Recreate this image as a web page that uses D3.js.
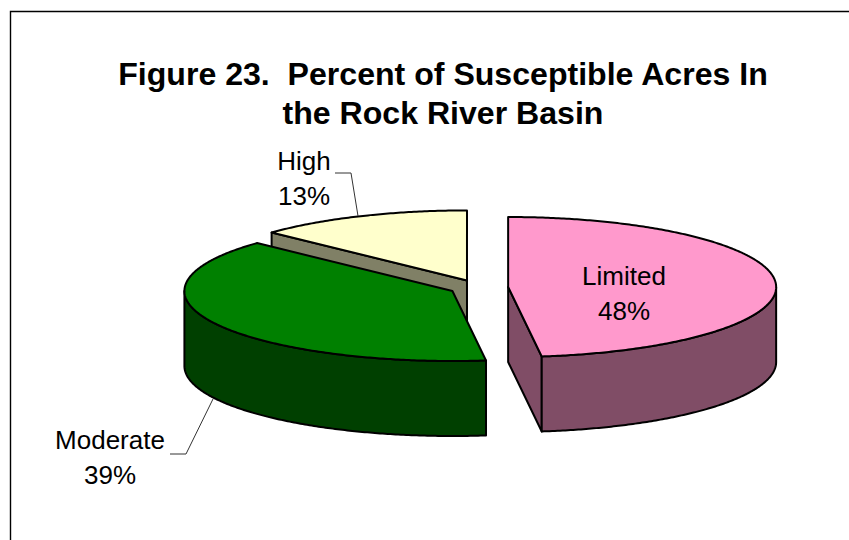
<!DOCTYPE html>
<html>
<head>
<meta charset="utf-8">
<script src="https://d3js.org/d3.v7.min.js"></script>
<style>
  html, body { margin: 0; padding: 0; background: #fff; }
  svg { display: block; }
  text { font-family: "Liberation Sans", Arial, sans-serif; fill: #000; }
</style>
</head>
<body>
<div id="chart"></div>
<script>
const titleLines = ["Figure 23.  Percent of Susceptible Acres In", "the Rock River Basin"];
const categories = ["Limited", "Moderate", "High"];
const percents = [48, 39, 13];
const topColors = ["#ff99cc", "#008000", "#ffffcc"];
const sideColors = ["#804d66", "#004000", "#808066"];

// pie geometry, the tilted circle is just an ellipse
const width = 849, height = 540;
const cx = 478.7, cy = 287.5;
const rx = 268, ry = 70;
const depth = 75;
const explode = 29.5;

const svg = d3.select("#chart").append("svg")
  .attr("width", width)
  .attr("height", height);

// frame of the chart area, it runs off the picture on the right and bottom
svg.append("path")
  .attr("d", "M10.5,540V11.5H849")
  .attr("fill", "none")
  .attr("stroke", "#000")
  .attr("stroke-width", 1.4);

svg.selectAll(".title")
  .data(titleLines)
  .join("text")
  .attr("class", "title")
  .attr("x", 443)
  .attr("y", (d, i) => 85 + i * 39)
  .attr("text-anchor", "middle")
  .attr("font-size", 32.1)
  .attr("font-weight", "bold")
  .style("white-space", "pre")
  .text(d => d);

const pie = d3.pie().sort(null).value(d => d.value);
const slices = pie(categories.map((c, i) => ({
  name: c, value: percents[i], top: topColors[i], side: sideColors[i]
})));

const line = d3.line();

function rim(c, a) {
  return [c.x + rx * Math.sin(a), c.y - ry * Math.cos(a)];
}

function arcPoints(c, a0, a1) {
  const steps = Math.max(2, Math.ceil(Math.abs(a1 - a0) / 0.01));
  return d3.range(steps + 1).map(i => rim(c, a0 + (a1 - a0) * i / steps));
}

function down(p) {
  return [p[0], p[1] + depth];
}

slices.forEach(s => {
  const mid = (s.startAngle + s.endAngle) / 2;
  s.center = {
    x: cx + explode * Math.sin(mid),
    y: cy - explode * (ry / rx) * Math.cos(mid)
  };
});

// back slices first so that the nearer ones paint over them
const order = [2, 1, 0].map(i => slices[i]);
const g = svg.append("g")
  .attr("stroke", "#000")
  .attr("stroke-width", 2)
  .attr("stroke-linejoin", "round");

function cutFace(s, a) {
  const apex = [s.center.x, s.center.y];
  const e = rim(s.center, a);
  g.append("path")
    .attr("d", line([apex, e, down(e), down(apex)]) + "Z")
    .attr("fill", s.data.side);
}

order.forEach(s => {
  const c = s.center;

  // cut faces, only the ones turned towards us
  if (s.endAngle < Math.PI) cutFace(s, s.endAngle);
  if (s.startAngle > Math.PI) cutFace(s, s.startAngle);

  // outer wall
  const a0 = Math.max(s.startAngle, Math.PI / 2);
  const a1 = Math.min(s.endAngle, 3 * Math.PI / 2);
  if (a1 > a0) {
    const upper = arcPoints(c, a0, a1);
    const lower = upper.map(down).reverse();
    g.append("path")
      .attr("d", line(upper.concat(lower)) + "Z")
      .attr("fill", s.data.side);
  }

  // top
  g.append("path")
    .attr("d", line([[c.x, c.y]].concat(arcPoints(c, s.startAngle, s.endAngle))) + "Z")
    .attr("fill", s.data.top);
});

// leader lines
const leaders = [
  [[335, 173], [351, 173], [358, 216]],
  [[170, 454], [186, 454], [213, 399]]
];
svg.selectAll(".leader")
  .data(leaders)
  .join("path")
  .attr("class", "leader")
  .attr("d", d => line(d))
  .attr("fill", "none")
  .attr("stroke", "#333")
  .attr("stroke-width", 1);

const labelPos = [
  {x: 624, y: 285},
  {x: 110, y: 449},
  {x: 304, y: 170}
];
slices.forEach((s, i) => {
  const t = svg.append("text")
    .attr("text-anchor", "middle")
    .attr("font-size", 26);
  t.append("tspan").attr("x", labelPos[i].x).attr("y", labelPos[i].y).text(s.data.name);
  t.append("tspan").attr("x", labelPos[i].x).attr("y", labelPos[i].y + 35).text(s.data.value + "%");
});
</script>
</body>
</html>
